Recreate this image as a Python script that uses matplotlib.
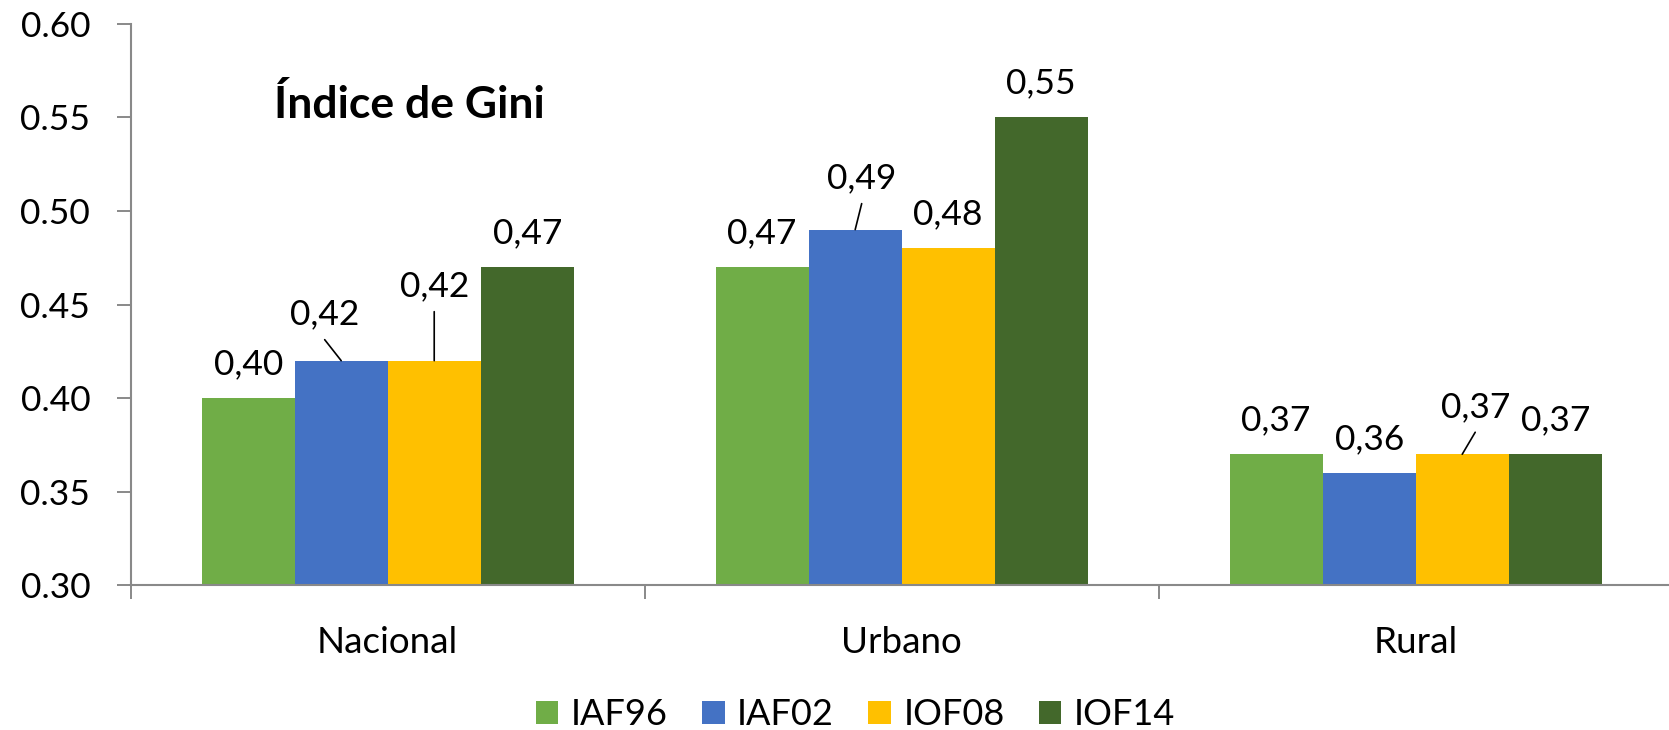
import matplotlib
matplotlib.use("Agg")
import matplotlib.pyplot as plt
from matplotlib.patches import Patch
import numpy as np

# ---- data ----
categories = ["Nacional", "Urbano", "Rural"]
series_names = ["IAF96", "IAF02", "IOF08", "IOF14"]
iaf96 = [0.40, 0.47, 0.37]
iaf02 = [0.42, 0.49, 0.36]
iof08 = [0.42, 0.48, 0.37]
iof14 = [0.47, 0.55, 0.37]
yticks = [0.30, 0.35, 0.40, 0.45, 0.50, 0.55, 0.60]
title_text = "Índice de Gini"

# ---- style ----
colors = ["#70AD47", "#4472C4", "#FFC000", "#43682B"]
plt.rcParams['font.family'] = ['Lato', 'DejaVu Sans']
FS_LBL = 25.5
FS_TICK = 25.5
FS_CAT = 26.5
FS_LEG = 26
FS_TITLE = 32
PX = 0.72  # pixel -> points at dpi 100

# label offsets (pixels): default baseline offset above bar top, special ones with leader lines
default_dy = 24
special = {  # (cat, series): (dx, dy_baseline, has_leader)
    (0, 1): (-16.5, 36, True),
    (0, 2): (0, 64, True),
    (1, 1): (6.5, 41, True),
    (2, 2): (13, 37, True),
}

fig = plt.figure(figsize=(16.69, 7.30), dpi=100)
W, H = 1669, 730
ax_left, ax_right, ax_top, ax_bottom = 130.7, 1672.7, 23.7, 585.3
ax = fig.add_axes([ax_left / W, 1 - ax_bottom / H, (ax_right - ax_left) / W, (ax_bottom - ax_top) / H])

all_series = [iaf96, iaf02, iof08, iof14]
n = len(all_series)
bw = 0.181
x = np.arange(len(categories))
for i, (vals, c) in enumerate(zip(all_series, colors)):
    xs = x + (i - (n - 1) / 2) * bw
    ax.bar(xs, np.array(vals) - 0.30, bottom=0.30, width=bw, color=c, linewidth=0, zorder=2)
    for ci, (xx, v) in enumerate(zip(xs, vals)):
        lbl = f"{v:.2f}".replace(".", ",")
        if (ci, i) in special:
            dx, dy, lead = special[(ci, i)]
        else:
            dx, dy, lead = 0, default_dy, False
        ax.annotate(lbl, xy=(xx, v), xytext=(dx * PX, dy * PX), textcoords="offset points",
                    ha="center", va="baseline", fontsize=FS_LBL, color="black", zorder=4)
        if lead:
            ax.annotate("", xy=(xx, v), xytext=(dx * PX, (dy - 15) * PX), textcoords="offset points",
                        arrowprops=dict(arrowstyle="-", color="black", lw=1.2, shrinkA=0, shrinkB=0),
                        zorder=4)

ax.set_xlim(-0.5, len(categories) - 0.5)
ax.set_ylim(0.30, 0.60)
ax.set_yticks(yticks)
ax.set_yticklabels([f"{t:.2f}" for t in yticks])

# category labels at centers (no tick marks), boundary ticks as minor ticks
ax.set_xticks(x)
ax.set_xticklabels(categories)
ax.set_xticks(np.arange(-0.5, len(categories), 1.0), minor=True)
ax.tick_params(axis="x", which="major", length=0, pad=48.7, labelsize=FS_CAT)
for t in ax.get_xticklabels():
    t.set_verticalalignment("baseline")
ax.tick_params(axis="x", which="minor", length=10, width=1.4, color="#898989", direction="out")
ax.tick_params(axis="y", length=9.8, width=1.4, color="#898989", pad=19.4, labelsize=FS_TICK, direction="out")

for s in ["top", "right"]:
    ax.spines[s].set_visible(False)
for s in ["left", "bottom"]:
    ax.spines[s].set_color("#898989")
    ax.spines[s].set_linewidth(1.5)

ax.text((274 - ax_left) / (ax_right - ax_left), (ax_bottom - 118) / (ax_bottom - ax_top), title_text,
        transform=ax.transAxes, ha="left", va="baseline", fontsize=FS_TITLE, fontweight="bold")

handles = [Patch(facecolor=c, edgecolor="none", label=nm) for c, nm in zip(colors, series_names)]
fig.legend(handles=handles, loc="center", bbox_to_anchor=(855.5 / W, 1 - 714.5 / H), ncol=4,
           frameon=False, fontsize=FS_LEG, handlelength=0.62, handleheight=0.62, handletextpad=0.35,
           columnspacing=0.95, borderpad=0, borderaxespad=0)

fig.savefig("out.png", dpi=100)
